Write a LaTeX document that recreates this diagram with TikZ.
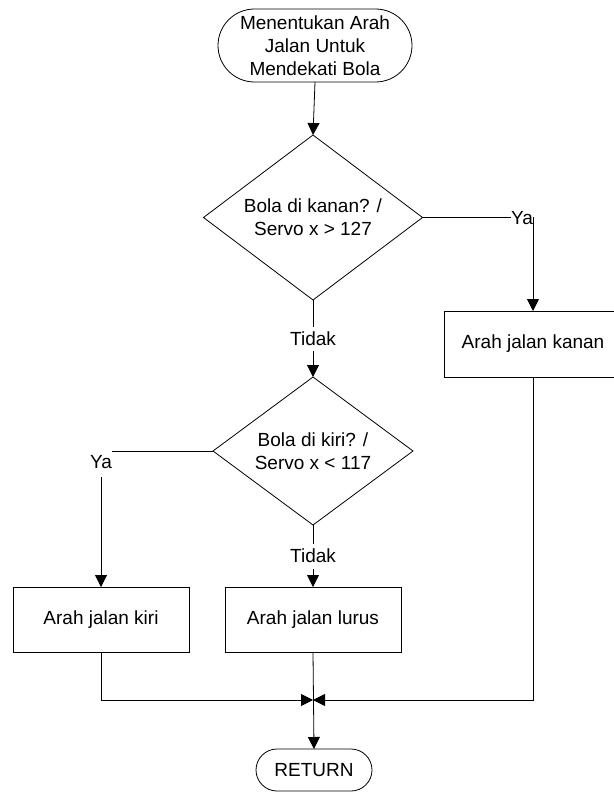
\documentclass[tikz,border=0pt]{standalone}
\usepackage{fontspec}
\setmainfont{Liberation Sans}
\usetikzlibrary{shapes.geometric,shapes.misc,arrows.meta}

\begin{document}
\begin{tikzpicture}[x=1pt,y=-1pt,
  font=\fontsize{19}{23}\selectfont,
  every node/.style={inner sep=0pt, outer sep=0pt},
  line/.style={draw=black, line width=0.8pt},
  flow/.style={line, -{Triangle[length=12pt,width=12pt]}},
  terminal/.style={line, rounded rectangle, align=center},
  process/.style={line, rectangle, align=center, minimum height=65pt},
  decision/.style={line, diamond, align=center},
  branch/.style={fill=white, inner xsep=0.5pt}
]
  \useasboundingbox (0,0) rectangle (613,792);

  % flowchart blocks
  \node[terminal, minimum width=194pt, minimum height=73pt] (start) at (315,45.5)
    {Menentukan Arah\\Jalan Untuk\\Mendekati Bola};
  \node[decision, aspect=1.33, minimum width=219pt, minimum height=165pt] (d1) at (313,217.5)
    {Bola di kanan? /\\Servo x > 127};
  \node[process, minimum width=178pt, minimum height=66pt] (kanan) at (533,344)
    {Arah jalan kanan};
  \node[decision, aspect=1.35, minimum width=200pt, minimum height=148pt] (d2) at (313,451)
    {Bola di kiri? /\\Servo x < 117};
  \node[process, minimum width=176pt] (kiri) at (101,619.5) {Arah jalan kiri};
  \node[process, minimum width=176pt] (lurus) at (313,619.5) {Arah jalan lurus};
  \node[terminal, minimum width=116pt, minimum height=42pt] (ret) at (314,770) {RETURN};

  \coordinate (m) at (313,700);

  % connectors
  \draw[flow] (start.south) -- (d1.north);
  \draw[flow] (d1.east) -| (kanan.north);
  \draw[flow] (d1.south) -- (d2.north);
  \draw[flow] (d2.west) -| (kiri.north);
  \draw[flow] (d2.south) -- (lurus.north);
  \draw[flow] (kiri.south) |- (m);
  \draw[flow] (kanan.south) |- (m);
  \draw[flow] (lurus.south) -- (ret.north);

  % branch labels
  \node[branch, minimum height=24pt] (ya1) at (522,218) {Ya};
  \node[branch, minimum height=28pt] (ya2) at (101,462.5) {Ya};
  \node[branch, minimum height=24pt] (no1) at (313,339) {Tidak};
  \node[branch, minimum height=25pt] (no2) at (313,556) {Tidak};
\end{tikzpicture}
\end{document}
